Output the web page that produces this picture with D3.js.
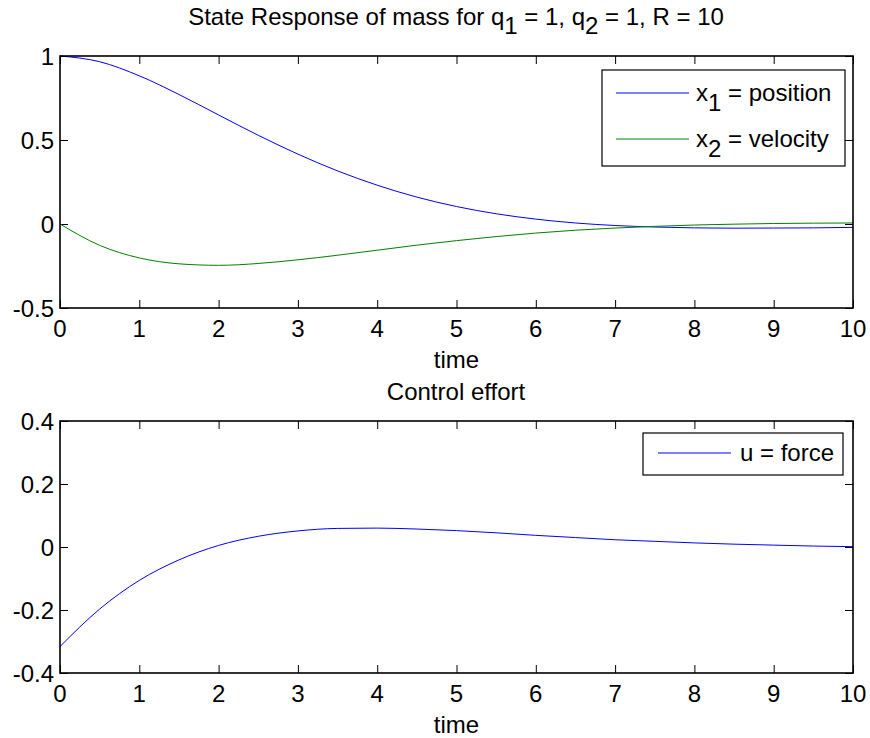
<!DOCTYPE html>
<html>
<head>
<meta charset="utf-8">
<script src="https://cdn.jsdelivr.net/npm/d3@7"></script>
<style>
  html, body { margin: 0; padding: 0; background: #fff; }
  svg { display: block; }
  text { font-family: "Liberation Sans", Arial, Helvetica, sans-serif; fill: #000; }
</style>
</head>
<body>
<svg id="chart" width="870" height="738"></svg>
<script>
// ---- data ----
const time = [0, 0.5, 1, 1.5, 2, 2.5, 3, 3.5, 4, 4.5, 5, 5.5, 6, 6.5, 7, 7.5, 8, 8.5, 9, 9.5, 10];
const position = [1.000, 0.966, 0.882, 0.771, 0.649, 0.528, 0.416, 0.316, 0.231, 0.160, 0.104, 0.061, 0.029, 0.006, -0.009, -0.018, -0.023, -0.025, -0.024, -0.023, -0.020];
const velocity = [0.000, -0.127, -0.202, -0.237, -0.246, -0.235, -0.213, -0.186, -0.156, -0.126, -0.099, -0.075, -0.054, -0.037, -0.024, -0.014, -0.006, -0.001, 0.003, 0.005, 0.006];
const force = [-0.316, -0.197, -0.106, -0.041, 0.005, 0.034, 0.051, 0.059, 0.060, 0.057, 0.052, 0.045, 0.037, 0.030, 0.023, 0.018, 0.013, 0.009, 0.006, 0.003, 0.001];

const xTicks = [0, 1, 2, 3, 4, 5, 6, 7, 8, 9, 10];
const yTicksTop = [-0.5, 0, 0.5, 1];
const yTicksBottom = [-0.4, -0.2, 0, 0.2, 0.4];

const svg = d3.select("#chart");
const FS = 24;
const tickLen = 8;

function makeAxes(cfg) {
  const g = svg.append("g");
  const x = d3.scaleLinear().domain([0, 10]).range([cfg.left, cfg.right]);
  const y = d3.scaleLinear().domain(cfg.yDomain).range([cfg.bottom, cfg.top]);

  // inward ticks, mirrored on all sides
  const axB = d3.axisBottom(x).tickValues(xTicks).tickSize(-tickLen).tickFormat("");
  const axT = d3.axisTop(x).tickValues(xTicks).tickSize(-tickLen).tickFormat("");
  const axL = d3.axisLeft(y).tickValues(cfg.yTicks).tickSize(-tickLen).tickFormat("");
  const axR = d3.axisRight(y).tickValues(cfg.yTicks).tickSize(-tickLen).tickFormat("");
  const sty = sel => { sel.select(".domain").remove(); sel.selectAll("line").attr("stroke", "#000").attr("stroke-width", 1); };
  g.append("g").attr("transform", `translate(0,${cfg.bottom})`).call(axB).call(sty);
  g.append("g").attr("transform", `translate(0,${cfg.top})`).call(axT).call(sty);
  g.append("g").attr("transform", `translate(${cfg.left},0)`).call(axL).call(sty);
  g.append("g").attr("transform", `translate(${cfg.right},0)`).call(axR).call(sty);

  // tick labels
  g.selectAll(".xl").data(xTicks).enter().append("text")
    .attr("x", d => x(d)).attr("y", cfg.bottom + 29)
    .attr("text-anchor", "middle").attr("font-size", FS).text(d => d3.format("")(d));
  g.selectAll(".yl").data(cfg.yTicks).enter().append("text")
    .attr("x", cfg.left - 6).attr("y", d => y(d) + 8.5)
    .attr("text-anchor", "end").attr("font-size", FS).text(d => String(d));

  // lines
  cfg.series.forEach(s => {
    const line = d3.line().x((d, i) => x(time[i])).y(d => y(d)).curve(d3.curveMonotoneX);
    g.append("path").datum(s.values).attr("fill", "none").attr("stroke", s.color)
      .attr("stroke-width", 1).attr("d", line);
  });

  // box
  g.append("rect").attr("x", cfg.left).attr("y", cfg.top)
    .attr("width", cfg.right - cfg.left).attr("height", cfg.bottom - cfg.top)
    .attr("fill", "none").attr("stroke", "#000").attr("stroke-width", 1.6);

  // x label
  g.append("text").attr("x", (cfg.left + cfg.right) / 2).attr("y", cfg.bottom + 60)
    .attr("text-anchor", "middle").attr("font-size", FS).text("time");

  // legend
  const L = cfg.legend;
  const lg = g.append("g");
  lg.append("rect").attr("x", L.x0).attr("y", L.y0).attr("width", L.x1 - L.x0).attr("height", L.y1 - L.y0)
    .attr("fill", "#fff").attr("stroke", "#000").attr("stroke-width", 1.2);
  cfg.series.forEach((s, i) => {
    const ly = L.rowY[i];
    lg.append("line").attr("x1", L.lx0).attr("x2", L.lx1).attr("y1", ly).attr("y2", ly)
      .attr("stroke", s.color).attr("stroke-width", 1);
    const t = lg.append("text").attr("x", L.tx).attr("y", ly + 8).attr("font-size", FS);
    s.label(t);
  });
  return g;
}

function sub(t, base, subscript, rest) {
  t.append("tspan").text(base);
  t.append("tspan").attr("dy", 10).text(subscript);
  t.append("tspan").attr("dy", -10).text(rest);
}

// title top
const title = svg.append("text").attr("x", 456).attr("y", 25).attr("text-anchor", "middle").attr("font-size", FS);
title.append("tspan").text("State Response of mass for q");
title.append("tspan").attr("dy", 9).text("1");
title.append("tspan").attr("dy", -9).text(" = 1, q");
title.append("tspan").attr("dy", 9).text("2");
title.append("tspan").attr("dy", -9).text(" = 1, R = 10");

makeAxes({
  left: 60, right: 853, top: 56, bottom: 308,
  yDomain: [-0.5, 1], yTicks: yTicksTop,
  series: [
    { values: position, color: "#0000ff", label: t => sub(t, "x", "1", " = position") },
    { values: velocity, color: "#008000", label: t => sub(t, "x", "2", " = velocity") }
  ],
  legend: { x0: 602, x1: 845, y0: 70, y1: 166, lx0: 616, lx1: 689, tx: 696, rowY: [93, 139] }
});

svg.append("text").attr("x", 456).attr("y", 400).attr("text-anchor", "middle").attr("font-size", FS).text("Control effort");

makeAxes({
  left: 60, right: 853, top: 421, bottom: 673,
  yDomain: [-0.4, 0.4], yTicks: yTicksBottom,
  series: [
    { values: force, color: "#0000ff", label: t => t.text("u = force") }
  ],
  legend: { x0: 643, x1: 843, y0: 433, y1: 475, lx0: 658, lx1: 731, tx: 740, rowY: [453] }
});
</script>
</body>
</html>
